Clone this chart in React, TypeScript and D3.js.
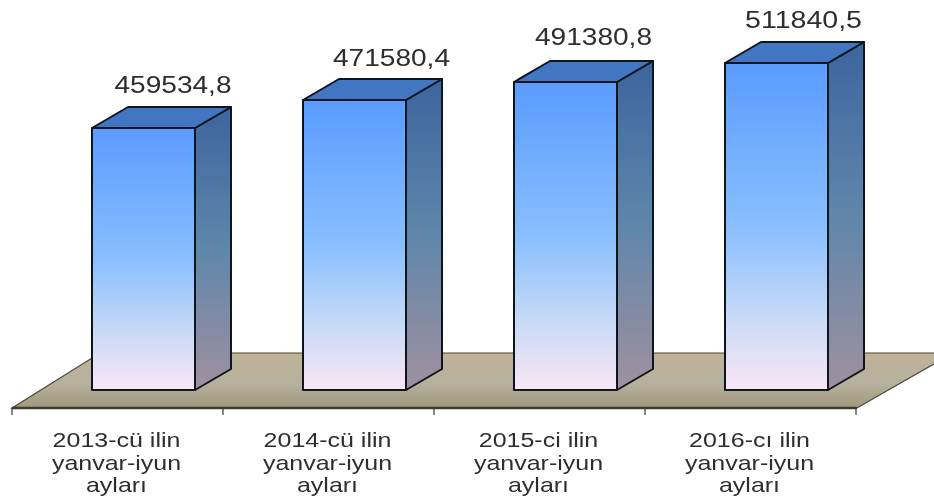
import React from "react";
import * as d3 from "d3";

const categories = ["2013-cü ilin", "2014-cü ilin", "2015-ci ilin", "2016-cı ilin"];
const subLabels = ["yanvar-iyun", "ayları"];
const values = [459534.8, 471580.4, 491380.8, 511840.5];
const valueLabels = ["459534,8", "471580,4", "491380,8", "511840,5"];
const labelDx = [29.5, 37, 28, 27];
const labelDy = [35, 34, 37, 35];

const W = 934, H = 498;
const baseY = 390;
const floorY = 408;
const depthX = 36, depthY = 21;
const x = d3.scaleBand<string>().domain(categories).range([12, 856]).paddingInner(0).paddingOuter(0);
// The source's bar heights are not proportional: a piecewise scale reproduces the drawn tops.
const y = d3.scaleLinear().domain(values).range([128, 100, 82, 63]);
const barW = 103;
const barOffset = 80;
const font = "'Liberation Sans', Arial, sans-serif";
const ink = "#2e2e2e";

const floorPath = d3.path();
floorPath.moveTo(12, floorY);
floorPath.lineTo(12 + 88, floorY - 55);
floorPath.lineTo(953, floorY - 55);
floorPath.lineTo(857, floorY);
floorPath.closePath();

export default function App() {
  return (
    <svg width={W} height={H} viewBox={`0 0 ${W} ${H}`}
      style={{ position: "absolute", left: 0, top: 0, background: "#fff", display: "block" }}>
      <defs>
        <linearGradient id="front" x1="0" y1="0" x2="0" y2="1">
          <stop offset="0" stopColor="#5a9bff" />
          <stop offset="0.5" stopColor="#89bfff" />
          <stop offset="0.78" stopColor="#c8daf6" />
          <stop offset="1" stopColor="#f9e6f6" />
        </linearGradient>
        <linearGradient id="side" x1="0" y1="0" x2="0" y2="1">
          <stop offset="0" stopColor="#3c659e" />
          <stop offset="0.5" stopColor="#5f86ab" />
          <stop offset="1" stopColor="#a0909f" />
        </linearGradient>
        <linearGradient id="floor" x1="0" y1="0" x2="0" y2="1">
          <stop offset="0" stopColor="#c1b296" />
          <stop offset="0.55" stopColor="#b5b19e" />
          <stop offset="1" stopColor="#a2987c" />
        </linearGradient>
        <filter id="soft" x="-2%" y="-2%" width="104%" height="104%">
          <feGaussianBlur stdDeviation="0.5" />
        </filter>
      </defs>
      <g filter="url(#soft)">
        <path d={floorPath.toString()} fill="url(#floor)" stroke="#4a4638" strokeWidth={1.2} />
        <line x1={12} x2={857} y1={floorY} y2={floorY} stroke="#3c3a30" strokeWidth={2.4} />
        {[...categories.map((c) => x(c)!), 856].map((t, i) => (
          <line key={i} x1={t} x2={t} y1={floorY} y2={floorY + 7} stroke="#3c3a30" strokeWidth={1.2} />
        ))}
        {categories.map((c, i) => {
          const l = x(c)! + barOffset;
          const r = l + barW;
          const t = y(values[i]);
          const topFace = `M${l},${t}L${l + depthX},${t - depthY}L${r + depthX},${t - depthY}L${r},${t}Z`;
          const sideFace = `M${r},${t}L${r + depthX},${t - depthY}L${r + depthX},${baseY - depthY}L${r},${baseY}Z`;
          return (
            <g key={c} stroke="#10151f" strokeWidth={2} strokeLinejoin="round">
              <path d={sideFace} fill="url(#side)" />
              <path d={topFace} fill="#4274c2" />
              <rect x={l} y={t} width={barW} height={baseY - t} fill="url(#front)" />
            </g>
          );
        })}
        {categories.map((c, i) => {
          const l = x(c)! + barOffset;
          return (
            <text key={c} x={l + barW / 2 + labelDx[i]} y={y(values[i]) - labelDy[i]}
              fontFamily={font} fontSize={24} fill={ink} textAnchor="middle" textLength={117} lengthAdjust="spacingAndGlyphs">
              {valueLabels[i]}
            </text>
          );
        })}
        {categories.map((c) => {
          const cx = x(c)! + x.bandwidth() / 2 - 1;
          return (
            <g key={c} fontFamily={font} fontSize={20.5} fill={ink} textAnchor="middle"
              transform={`translate(${cx},0) scale(1.22,1)`}>
              <text x={0} y={447}>{c}</text>
              <text x={0} y={470}>{subLabels[0]}</text>
              <text x={0} y={492.5}>{subLabels[1]}</text>
            </g>
          );
        })}
      </g>
    </svg>
  );
}
